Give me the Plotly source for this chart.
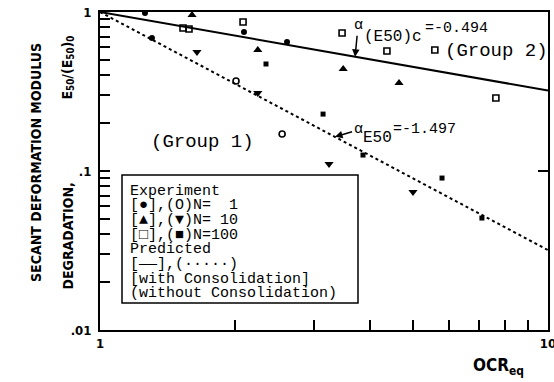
import numpy as np
import plotly.graph_objects as go

# ---- data ----
circ_filled_x = [1.26, 1.306, 2.096, 2.615]
circ_filled_y = [0.986, 0.686, 0.749, 0.648]

sq_open_x = [1.532, 1.580, 2.086, 3.47, 4.37, 5.59, 7.65]
sq_open_y = [0.793, 0.782, 0.865, 0.738, 0.568, 0.577, 0.288]

tri_up_x = [1.605, 2.25, 3.49, 4.65]
tri_up_y = [0.957, 0.577, 0.438, 0.358]

circ_open_x = [2.012, 2.55]
circ_open_y = [0.368, 0.171]

tri_down_x = [1.646, 2.25, 3.245, 4.996]
tri_down_y = [0.560, 0.309, 0.1107, 0.0738]

sq_filled_x = [2.347, 3.147, 3.864, 5.80, 7.12]
sq_filled_y = [0.471, 0.228, 0.126, 0.0903, 0.0506]

line_x = [1.0, 10.0]
with_consol_y = [1.0, 0.3206]      # alpha = -0.494
without_consol_y = [1.0, 0.0318]   # alpha = -1.497

x_tickvals = [1, 10]
x_ticktext = ["1", "10"]
x_minorvals = [2, 3, 4, 5, 6, 7, 8, 9]
y_tickvals = [0.01, 0.1, 1.0]
y_ticktext = [".01", ".1", "1"]
y_minorvals = [0.02, 0.03, 0.04, 0.05, 0.06, 0.07, 0.08, 0.09,
               0.2, 0.3, 0.4, 0.5, 0.6, 0.7, 0.8, 0.9]

legend_lines = [
    "Experiment",
    "[●],(O)N=\u00a0\u00a01",
    "[▲],(▼)N=\u00a010",
    "[□],(■)N=100",
    "Predicted",
    "[——],(·····)",
    "[with\u00a0Consolidation]",
    "(without\u00a0Consolidation)",
]

MONO = "Liberation Mono, Courier New, monospace"
SANS = "DejaVu Sans Condensed, Liberation Sans Narrow, Liberation Sans, Arial"

fig = go.Figure()

fig.add_trace(go.Scatter(x=line_x, y=with_consol_y, mode="lines",
                         line=dict(color="black", width=2)))
fig.add_trace(go.Scatter(x=line_x, y=without_consol_y, mode="lines",
                         line=dict(color="black", width=2, dash="dot")))

def pts(x, y, sym, size, lw=0):
    fig.add_trace(go.Scatter(x=x, y=y, mode="markers",
                             marker=dict(symbol=sym, size=size, color="black",
                                         line=dict(color="black", width=lw))))

pts(circ_filled_x, circ_filled_y, "circle", 6)
pts(sq_open_x, sq_open_y, "square-open", 6, 1.6)
pts(tri_up_x, tri_up_y, "triangle-up", 8)
pts(circ_open_x, circ_open_y, "circle-open", 6, 1.6)
pts(tri_down_x, tri_down_y, "triangle-down", 8)
pts(sq_filled_x, sq_filled_y, "square", 5)

L, T, W, H = 100, 12, 448, 318
def px(x):
    return (x - L) / W
def py(y):
    return 1 - (y - T) / H

ann = []
def txt(s, x, y, size, family=MONO, xanchor="center", angle=0, weight="normal"):
    ann.append(dict(text=s, x=px(x), y=py(y), xref="paper", yref="paper",
                    showarrow=False, xanchor=xanchor, yanchor="middle",
                    textangle=angle,
                    font=dict(family=family, size=size, color="black", weight=weight)))

# slope annotations
ann.append(dict(text="α", x=np.log10(3.71), y=np.log10(0.523), xref="x", yref="y",
                showarrow=True, ax=3, ay=-31, arrowhead=2, arrowsize=1, arrowwidth=1.5,
                arrowcolor="black", font=dict(family=MONO, size=15, color="black")))
txt("(E50)c", 392.5, 37, 16)
txt("=-0.494", 456.5, 29, 15)

ann.append(dict(text="α", x=np.log10(3.347), y=np.log10(0.164), xref="x", yref="y",
                showarrow=True, ax=23, ay=-7, arrowhead=2, arrowsize=1, arrowwidth=1.5,
                arrowcolor="black", font=dict(family=MONO, size=15, color="black")))
txt("E50", 377.5, 138, 16)
txt("=-1.497", 424, 129, 15)

txt("(Group 2)", 496.5, 51, 19)
txt("(Group 1)", 202.5, 142, 19)

for i, s in enumerate(legend_lines):
    txt(s, 128, 191 + 14.7 * i, 15, xanchor="left")

# axis titles
txt("SECANT DEFORMATION MODULUS", 36, 163, 14, family=SANS, angle=-90, weight="bold")
txt("DEGRADATION,", 67, 236.5, 14, family=SANS, angle=-90, weight="bold")
txt("E<sub>50</sub>/(E<sub>50</sub>)<sub>0</sub>", 67, 67.5, 14, family=SANS, angle=-90, weight="bold")
txt("OCR<sub>eq</sub>", 498, 366, 17, family=SANS, weight="bold")

shapes = [
    dict(type="rect", xref="paper", yref="paper", x0=px(122), x1=px(358),
         y0=py(303), y1=py(175), line=dict(color="black", width=1.5),
         fillcolor="white", layer="above"),
    dict(type="line", xref="paper", yref="y", x0=1, x1=1 - 10 / W,
         y0=0.1, y1=0.1, line=dict(color="black", width=2)),
]

fig.update_layout(
    width=554, height=382,
    margin=dict(l=L, r=554 - L - W, t=T, b=382 - T - H),
    paper_bgcolor="white", plot_bgcolor="white",
    showlegend=False,
    annotations=ann, shapes=shapes,
)
tick_font = dict(family=SANS, size=13, color="black", weight="bold")
fig.update_xaxes(type="log", range=[0, 1], tickmode="array",
                 tickvals=x_tickvals, ticktext=x_ticktext,
                 ticks="inside", ticklen=10, tickwidth=2, tickcolor="black",
                 minor=dict(tickmode="array", tickvals=x_minorvals, ticks="inside",
                            ticklen=10, tickwidth=2, tickcolor="black", showgrid=False),
                 showline=True, linecolor="black", linewidth=2, mirror=True,
                 showgrid=False, zeroline=False, automargin=False,
                 ticklabeloverflow="allow", tickfont=tick_font)
fig.update_yaxes(type="log", range=[-2, 0], tickmode="array",
                 tickvals=y_tickvals, ticktext=y_ticktext,
                 ticks="inside", ticklen=10, tickwidth=2, tickcolor="black",
                 minor=dict(tickmode="array", tickvals=y_minorvals, ticks="inside",
                            ticklen=10, tickwidth=2, tickcolor="black", showgrid=False),
                 showline=True, linecolor="black", linewidth=2, mirror=True,
                 showgrid=False, zeroline=False, ticklabelstandoff=4, automargin=False,
                 ticklabeloverflow="allow", tickfont=tick_font)

fig.write_html("out.html", config={"displayModeBar": False},
               post_script="document.body.style.margin='0';document.body.style.padding='0';")
